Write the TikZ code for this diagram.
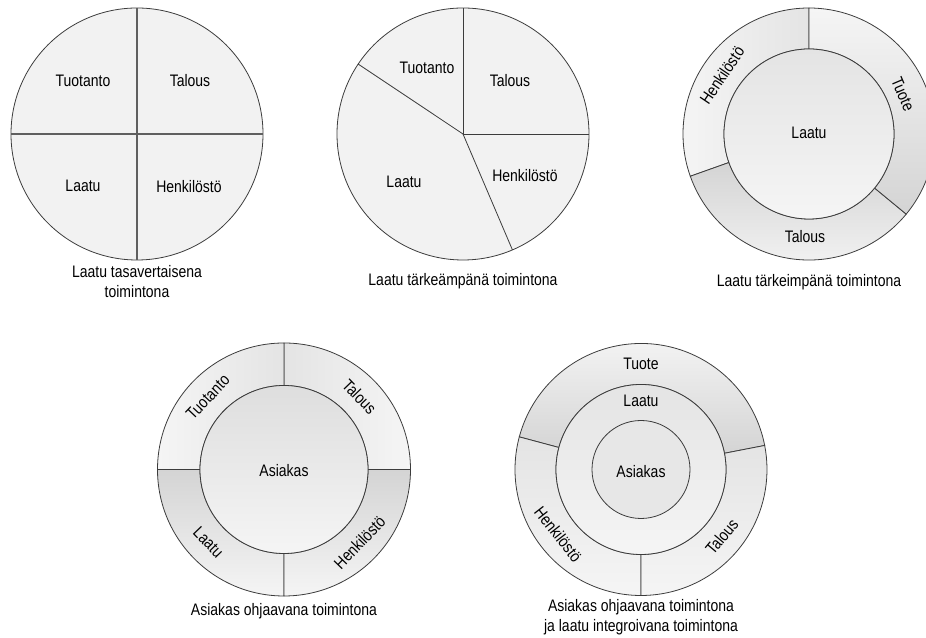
\documentclass[tikz,border=0pt]{standalone}
\usepackage{fontspec}
\setmainfont{Liberation Sans}[FakeStretch=0.84]
\usepackage{tikz}
\definecolor{ringLine}{RGB}{60,60,60}
\definecolor{dividerLine}{RGB}{95,95,95}
\definecolor{pieFill}{RGB}{242,242,242}
\definecolor{ringLight}{RGB}{245,245,245}
\definecolor{ringMid}{RGB}{228,228,228}
\definecolor{ringDark}{RGB}{212,212,212}

\begin{document}
\begin{tikzpicture}[x=0.75pt, y=0.75pt,
  every node/.style={font=\fontsize{12.5}{15}\selectfont, inner sep=0pt},
  ringedge/.style={draw=ringLine, line width=0.6pt}]
\useasboundingbox (0,0) rectangle (926,638);
\clip (0,0) rectangle (926,638);
%
\begin{scope}[shift={(137,504)}]
\draw[ringedge, fill=pieFill] (0,0) circle (126);
\draw[draw=dividerLine, line width=0.9pt] (0,126) -- (0,-126);
\draw[draw=dividerLine, line width=0.9pt] (-126,0) -- (126,0);
\node (tuotA) at (-54,53) {Tuotanto};
\node (talA) at (53,53) {Talous};
\node (laaA) at (-54,-52) {Laatu};
\node (henA) at (52,-53) {Henkilöstö};
\node[align=center] (capA) at (0,-148) {Laatu tasavertaisena\\toimintona};
\end{scope}

%
\begin{scope}[shift={(463,504)}]
\draw[ringedge, fill=pieFill] (0,0) circle (126);
\draw[ringedge] (0,0) -- (90:126);
\draw[ringedge] (0,0) -- (0:126);
\draw[ringedge] (0,0) -- (-66.9:126);
\draw[ringedge] (0,0) -- (146.3:126);
\node (tuotB) at (-36,66) {Tuotanto};
\node (talB) at (47,53) {Talous};
\node (henB) at (62,-42) {Henkilöstö};
\node (laaB) at (-59,-48) {Laatu};
\node (capB) at (0,-147) {Laatu tärkeämpänä toimintona};
\end{scope}

%
\begin{scope}[shift={(809,504)}]
\draw[ringedge, left color=ringLight, right color=ringMid] (90:126) arc[start angle=90, end angle=199.6, radius=126] -- (199.6:85) arc[start angle=199.6, end angle=90, radius=85] -- cycle;
\draw[ringedge, top color=ringDark, bottom color=ringLight] (199.6:126) arc[start angle=199.6, end angle=320.5, radius=126] -- (320.5:85) arc[start angle=320.5, end angle=199.6, radius=85] -- cycle;
\draw[ringedge, top color=ringLight, bottom color=ringDark] (-39.5:126) arc[start angle=-39.5, end angle=90, radius=126] -- (90:85) arc[start angle=90, end angle=-39.5, radius=85] -- cycle;
\draw[ringedge, top color=ringMid, bottom color=ringLight] (0,0) circle (85);
\node[rotate=56] (henC) at (146:105) {Henkilöstö};
\node[rotate=-67] (tuoC) at (23:102) {Tuote};
\node (talC) at (-4,-103) {Talous};
\node (laaC) at (0,1) {Laatu};
\node (capC) at (0,-148) {Laatu tärkeimpänä toimintona};
\end{scope}

%
\begin{scope}[shift={(284,168.5)}]
\draw[ringedge, left color=ringMid, right color=ringLight] (0:126.5) arc[start angle=0, end angle=90, radius=126.5] -- (90:84) arc[start angle=90, end angle=0, radius=84] -- cycle;
\draw[ringedge, left color=ringLight, right color=ringMid] (90:126.5) arc[start angle=90, end angle=180, radius=126.5] -- (180:84) arc[start angle=180, end angle=90, radius=84] -- cycle;
\draw[ringedge, top color=ringDark, bottom color=ringLight] (180:126.5) arc[start angle=180, end angle=270, radius=126.5] -- (270:84) arc[start angle=270, end angle=180, radius=84] -- cycle;
\draw[ringedge, top color=ringDark, bottom color=ringLight] (270:126.5) arc[start angle=270, end angle=360, radius=126.5] -- (0:84) arc[start angle=360, end angle=270, radius=84] -- cycle;
\draw[ringedge, top color=ringDark!70!ringLight, bottom color=ringLight] (0,0) circle (84);
\node[rotate=46.5] (tuotD) at (136.5:105) {Tuotanto};
\node[rotate=-46] (talD) at (44:105) {Talous};
\node[rotate=-46] (laaD) at (-136:105) {Laatu};
\node[rotate=46] (henD) at (-44:105) {Henkilöstö};
\node (asiD) at (0,-1) {Asiakas};
\node (capD) at (0,-141.5) {Asiakas ohjaavana toimintona};
\end{scope}

%
\begin{scope}[shift={(641,168.5)}]
\draw[ringedge, top color=ringLight, bottom color=ringDark] (11:126) arc[start angle=11, end angle=165, radius=126] -- (165:85) arc[start angle=165, end angle=11, radius=85] -- cycle;
\draw[ringedge, top color=ringMid, bottom color=ringLight] (165:126) arc[start angle=165, end angle=270, radius=126] -- (270:85) arc[start angle=270, end angle=165, radius=85] -- cycle;
\draw[ringedge, top color=ringMid, bottom color=ringLight] (-90:126) arc[start angle=-90, end angle=11, radius=126] -- (11:85) arc[start angle=11, end angle=-90, radius=85] -- cycle;
\draw[ringedge, top color=ringMid, bottom color=ringLight] (0,0) circle (85);
\draw[ringedge, fill=ringMid!80!ringLight] (0,0) circle (49);
\node (tuoE) at (0,105.5) {Tuote};
\node (laaE) at (0,68.5) {Laatu};
\node (asiE) at (0,-2.5) {Asiakas};
\node[rotate=-52] (henE) at (-142:105) {Henkilöstö};
\node[rotate=50] (talE) at (-39.6:105) {Talous};
\node[align=center] (capE) at (0,-147.5) {Asiakas ohjaavana toimintona\\ja laatu integroivana toimintona};
\end{scope}
\end{tikzpicture}
\end{document}
